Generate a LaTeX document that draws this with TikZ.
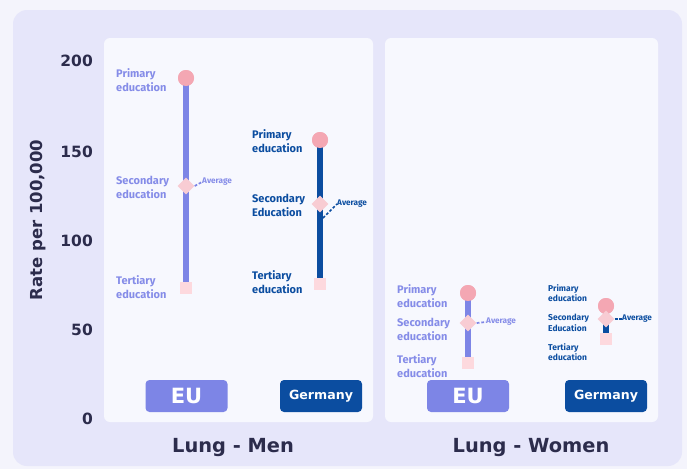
\documentclass[tikz,border=0pt]{standalone}
\usepackage{fontspec}
\setmainfont{Fira Sans}
\newfontfamily\dvs{DejaVu Sans}
\usetikzlibrary{shapes.geometric}
\definecolor{pagebg}{HTML}{F4F4FC}
\definecolor{outerbg}{HTML}{E6E6FA}
\definecolor{panelbg}{HTML}{F7F8FE}
\definecolor{eucol}{HTML}{7D85E6}
\definecolor{eutxt}{HTML}{858CE8}
\definecolor{decol}{HTML}{0B4DA0}
\definecolor{pinkA}{HTML}{F4A7B3}
\definecolor{pinkB}{HTML}{F8CCD3}
\definecolor{pinkC}{HTML}{FDD9DE}
\definecolor{darktxt}{HTML}{2C2C4C}
\tikzset{
  panel/.style={fill=panelbg, draw=none, rounded corners=6pt},
  barline/.style={line width=6pt},
  topdot/.style={circle, fill=pinkA, minimum size=16pt, inner sep=0pt},
  middia/.style={diamond, fill=pinkB, minimum size=17pt, inner sep=0pt},
  lowsq/.style={rectangle, fill=pinkC, minimum size=12pt, inner sep=0pt},
  lbl/.style={font=\fontsize{11}{14}\selectfont\bfseries, align=left, anchor=west, inner sep=0pt},
  slbl/.style={font=\fontsize{8.5}{10.5}\selectfont\bfseries, align=left, anchor=west, inner sep=0pt},
  avg/.style={font=\fontsize{8.2}{9}\selectfont\bfseries, anchor=west, inner sep=0pt},
  avgline/.style={line width=1.7pt, dash pattern=on 2.8pt off 1.8pt},
  tick/.style={font=\dvs\fontsize{15.5}{15.5}\selectfont\bfseries, text=darktxt, anchor=east, inner sep=0pt},
  btn/.style={rounded corners=4pt, minimum width=82pt, minimum height=32pt, inner sep=0pt, text=white},
  ttl/.style={font=\dvs\fontsize{19.4}{20}\selectfont\bfseries, text=darktxt, inner sep=0pt}
}
\begin{document}
\begin{tikzpicture}[x=1pt,y=-1pt]
\fill[pagebg] (0,0) rectangle (687,469);
\useasboundingbox (0,0) rectangle (687,469);
\fill[outerbg, rounded corners=14pt] (13,10) rectangle (682,466);
\fill[panel] (104,38) rectangle (373,422);
\fill[panel] (385,38) rectangle (658,422);

% axis
\node[tick] (t200) at (93,61) {200};
\node[tick] (t150) at (93,152) {150};
\node[tick] (t100) at (93,241) {100};
\node[tick] (t50) at (93,330) {50};
\node[tick] (t0) at (93,419) {0};
\node[rotate=90, font=\dvs\fontsize{16.5}{16.5}\selectfont\bfseries, text=darktxt, inner sep=0pt] (ylab) at (38,220) {Rate per 100,000};

% EU men
\node[lowsq] (emT) at (186,288) {};
\node[topdot] (emP) at (186,78) {};
\draw[eucol, barline] (emP.center) -- (emT.north);
\node[topdot] at (emP) {};
\node[middia] (emS) at (186,186) {};
\node[avg, text=eutxt] (emA) at (202,182) {Average};
\draw[eucol, avgline] (emS.east) -- (emA.west);
\node[lbl, text=eutxt] (emPl) at (116,80) {Primary\\education};
\node[lbl, text=eutxt] (emSl) at (116,187.5) {Secondary\\education};
\node[lbl, text=eutxt] (emTl) at (116,287) {Tertiary\\education};

% Germany men
\node[lowsq] (gmT) at (320,284) {};
\node[topdot] (gmP) at (320,140) {};
\draw[decol, barline] (gmP.center) -- (gmT.north);
\node[topdot] at (gmP) {};
\node[middia] (gmS) at (320,204) {};
\node[avg, text=decol] (gmA) at (337,204) {Average};
\coordinate (gmD) at (323,218);
\draw[decol, avgline] (gmD) -- (gmA.west);
\node[lbl, text=decol] (gmPl) at (252,141) {Primary\\education};
\node[lbl, text=decol] (gmSl) at (252,205) {Secondary\\Education};
\node[lbl, text=decol] (gmTl) at (252,282) {Tertiary\\education};

% EU women
\node[lowsq] (ewT) at (468,363) {};
\node[topdot] (ewP) at (468,293) {};
\draw[eucol, barline] (ewP.center) -- (ewT.north);
\node[topdot] at (ewP) {};
\node[middia] (ewS) at (468,323) {};
\node[avg, text=eutxt] (ewA) at (486,322) {Average};
\draw[eucol, avgline] (ewS.east) -- (ewA.west);
\node[lbl, text=eutxt] (ewPl) at (397,296) {Primary\\education};
\node[lbl, text=eutxt] (ewSl) at (397,329) {Secondary\\education};
\node[lbl, text=eutxt] (ewTl) at (397,366) {Tertiary\\education};

% Germany women
\node[lowsq] (gwT) at (606,339) {};
\node[topdot] (gwP) at (606,306) {};
\draw[decol, barline] (gwP.center) -- (gwT.north);
\node[topdot] at (gwP) {};
\node[middia] (gwS) at (606,319) {};
\node[avg, text=decol] (gwA) at (622,319) {Average};
\draw[decol, avgline] (gwS.east) -- (gwA.west);
\node[slbl, text=decol] (gwPl) at (548,293) {Primary\\education};
\node[slbl, text=decol] (gwSl) at (548,323) {Secondary\\Education};
\node[slbl, text=decol] (gwTl) at (548,352) {Tertiary\\education};

% buttons
\node[btn, fill=eucol, font=\dvs\fontsize{21}{21}\selectfont\bfseries] (bEUm) at (186.5,396) {EU};
\node[btn, fill=decol, font=\dvs\fontsize{12.6}{13}\selectfont\bfseries] (bDEm) at (321,396) {Germany};
\node[btn, fill=eucol, font=\dvs\fontsize{21}{21}\selectfont\bfseries] (bEUw) at (468,396) {EU};
\node[btn, fill=decol, font=\dvs\fontsize{12.6}{13}\selectfont\bfseries] (bDEw) at (606,396) {Germany};

% titles
\node[ttl] (tMen) at (233,448) {Lung - Men};
\node[ttl] (tWomen) at (531,448) {Lung - Women};
\end{tikzpicture}
\end{document}
